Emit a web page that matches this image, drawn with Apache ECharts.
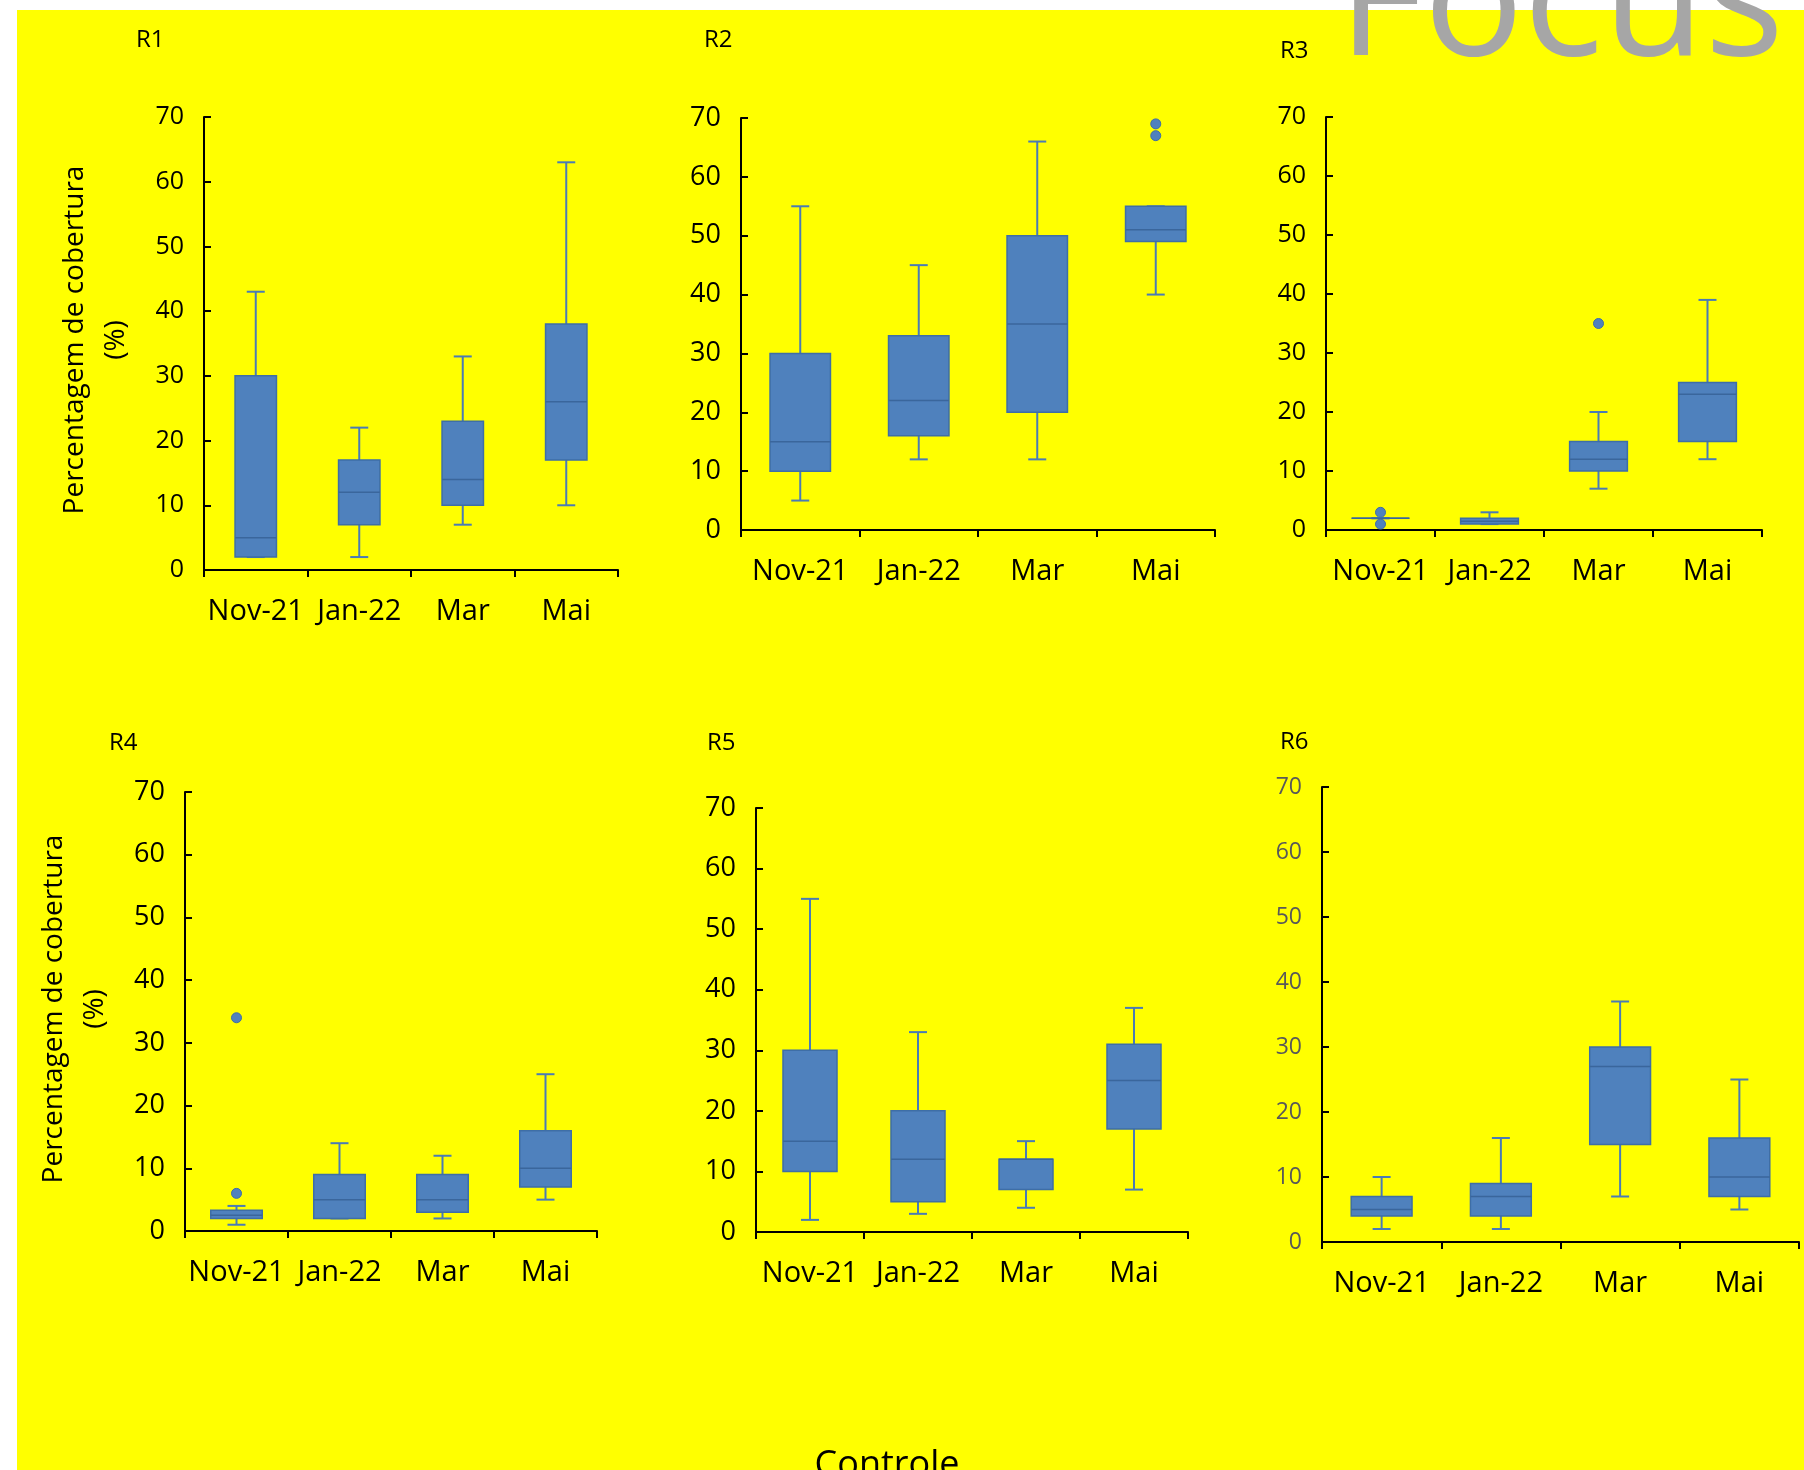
<!DOCTYPE html>
<html>
<head>
<meta charset="utf-8">
<script src="https://cdn.jsdelivr.net/npm/echarts@6/dist/echarts.min.js"></script>
<style>
html,body{margin:0;padding:0;background:#fff;}
#chart{width:1804px;height:1470px;}
</style>
</head>
<body>
<div id="chart"></div>
<script>
// ---- data ----
const categories = ['Nov-21', 'Jan-22', 'Mar', 'Mai'];
const yMin = 0, yMax = 70, yStep = 10;
// each box: [min, Q1, median, Q3, max]
const r1Box = [[2, 2, 5, 30, 43], [2, 7, 12, 17, 22], [7, 10, 14, 23, 33], [10, 17, 26, 38, 63]];
const r1Out = [];
const r2Box = [[5, 10, 15, 30, 55], [12, 16, 22, 33, 45], [12, 20, 35, 50, 66], [40, 49, 51, 55, 55]];
const r2Out = [['Mai', 69], ['Mai', 67]];
const r3Box = [[2, 2, 2, 2, 2], [1, 1, 1.5, 2, 3], [7, 10, 12, 15, 20], [12, 15, 23, 25, 39]];
const r3Out = [['Nov-21', 3], ['Nov-21', 1], ['Mar', 35]];
const r4Box = [[1, 2, 2.5, 3.3, 4], [2, 2, 5, 9, 14], [2, 3, 5, 9, 12], [5, 7, 10, 16, 25]];
const r4Out = [['Nov-21', 6], ['Nov-21', 34]];
const r5Box = [[2, 10, 15, 30, 55], [3, 5, 12, 20, 33], [4, 7, 12, 12, 15], [7, 17, 25, 31, 37]];
const r5Out = [];
const r6Box = [[2, 4, 5, 7, 10], [2, 4, 7, 9, 16], [7, 15, 27, 30, 37], [5, 7, 10, 16, 25]];
const r6Out = [];
const panelNames = ['R1', 'R2', 'R3', 'R4', 'R5', 'R6'];
const yTitle = 'Percentagem de cobertura\n(%)';
const bottomTitle = 'Controle';
const watermark = 'Focus';

// ---- layout ----
const FONT = '"Open Sans", sans-serif';
const panels = [
  {box: r1Box, out: r1Out, grid: {left: 204, top: 117, width: 414, height: 453}, ratio: 0.40, yFont: 25, yColor: '#000', label: [136, 40]},
  {box: r2Box, out: r2Out, grid: {left: 741, top: 118, width: 474, height: 412}, ratio: 0.51, yFont: 27, yColor: '#000', label: [704, 40]},
  {box: r3Box, out: r3Out, grid: {left: 1326, top: 117, width: 436, height: 413}, ratio: 0.53, yFont: 25, yColor: '#000', label: [1280, 51]},
  {box: r4Box, out: r4Out, grid: {left: 185, top: 792, width: 412, height: 439}, ratio: 0.50, yFont: 27, yColor: '#000', label: [109, 743]},
  {box: r5Box, out: r5Out, grid: {left: 756, top: 808, width: 432, height: 424}, ratio: 0.50, yFont: 27, yColor: '#000', label: [707, 743]},
  {box: r6Box, out: r6Out, grid: {left: 1322, top: 787, width: 477, height: 455}, ratio: 0.51, yFont: 23, yColor: '#595959', label: [1280, 742]}
];

const BOX_FILL = '#4f81bd';
const BOX_EDGE = '#3e6ea6';
const WHISKER = '#4a7bb5';

function makeRender(ratio) {
  return function (params, api) {
    const i = api.value(0);
    const pMin = api.coord([i, api.value(1)]);
    const pQ1 = api.coord([i, api.value(2)]);
    const pMed = api.coord([i, api.value(3)]);
    const pQ3 = api.coord([i, api.value(4)]);
    const pMax = api.coord([i, api.value(5)]);
    const band = api.size([1, 0])[0];
    const w = band * ratio;
    const cx = pMed[0];
    const cap = 9;
    const ls = {stroke: WHISKER, lineWidth: 2};
    return {
      type: 'group',
      children: [
        {type: 'line', shape: {x1: cx, y1: pQ3[1], x2: cx, y2: pMax[1]}, style: ls},
        {type: 'line', shape: {x1: cx - cap, y1: pMax[1], x2: cx + cap, y2: pMax[1]}, style: ls},
        {type: 'line', shape: {x1: cx, y1: pQ1[1], x2: cx, y2: pMin[1]}, style: ls},
        {type: 'line', shape: {x1: cx - cap, y1: pMin[1], x2: cx + cap, y2: pMin[1]}, style: ls},
        {type: 'rect', shape: {x: cx - w / 2, y: pQ3[1], width: w, height: Math.max(pQ1[1] - pQ3[1], 0)},
          style: {fill: BOX_FILL, stroke: BOX_EDGE, lineWidth: 1.5}},
        {type: 'line', shape: {x1: cx - w / 2, y1: pMed[1], x2: cx + w / 2, y2: pMed[1]},
          style: {stroke: '#3a669c', lineWidth: 1.5}}
      ]
    };
  };
}

const grid = [], xAxis = [], yAxis = [], series = [];
const graphic = [
  {type: 'rect', z: -100, silent: true, shape: {x: 17, y: 10, width: 1804 - 17, height: 1470 - 10}, style: {fill: '#ffff00'}}
];

panels.forEach((p, k) => {
  grid.push(Object.assign({containLabel: false}, p.grid));
  xAxis.push({
    type: 'category', gridIndex: k, data: categories, boundaryGap: true,
    axisLine: {show: true, lineStyle: {color: '#000', width: 2}},
    axisTick: {show: true, inside: false, length: 7, lineStyle: {color: '#000', width: 2}},
    axisLabel: {color: '#000', fontSize: 29, fontFamily: FONT, margin: 27, interval: 0},
    splitLine: {show: false}
  });
  yAxis.push({
    type: 'value', gridIndex: k, min: yMin, max: yMax, interval: yStep,
    axisLine: {show: true, lineStyle: {color: '#000', width: 2}},
    axisTick: {show: true, inside: true, length: 7, lineStyle: {color: '#000', width: 2}},
    axisLabel: {color: p.yColor, fontSize: p.yFont, fontFamily: FONT, margin: 20},
    splitLine: {show: false}
  });
  series.push({
    type: 'custom', xAxisIndex: k, yAxisIndex: k,
    renderItem: makeRender(p.ratio),
    encode: {x: 0, y: [1, 2, 3, 4, 5]},
    data: p.box.map((b, i) => [i].concat(b)),
    z: 3
  });
  if (p.out.length) {
    series.push({
      type: 'scatter', xAxisIndex: k, yAxisIndex: k,
      data: p.out, symbol: 'circle', symbolSize: 10,
      itemStyle: {color: BOX_FILL, borderColor: BOX_EDGE, borderWidth: 1, opacity: 1},
      z: 4
    });
  }
  graphic.push({
    type: 'text', x: p.label[0], y: p.label[1], silent: true,
    style: {text: panelNames[k], fill: '#000', font: '24px ' + FONT, textAlign: 'left', textVerticalAlign: 'middle'}
  });
});

// y axis titles (R1 and R4)
graphic.push({
  type: 'text', x: 96, y: 340, rotation: Math.PI / 2, silent: true,
  style: {text: yTitle, fill: '#000', font: '28px ' + FONT, lineHeight: 41, textAlign: 'center', textVerticalAlign: 'middle'}
});
graphic.push({
  type: 'text', x: 75, y: 1009, rotation: Math.PI / 2, silent: true,
  style: {text: yTitle, fill: '#000', font: '28px ' + FONT, lineHeight: 41, textAlign: 'center', textVerticalAlign: 'middle'}
});
// bottom title
graphic.push({
  type: 'text', x: 887, y: 1466, silent: true,
  style: {text: bottomTitle, fill: '#000', font: '36px ' + FONT, textAlign: 'center', textVerticalAlign: 'middle'}
});
// watermark
graphic.push({
  type: 'text', x: 1338, y: 8, silent: true, z: 50,
  style: {text: watermark, fill: '#a6a6a6', font: '166px ' + FONT, textAlign: 'left', textVerticalAlign: 'middle'}
});

const chart = echarts.init(document.getElementById('chart'), null, {renderer: 'canvas'});
chart.setOption({
  backgroundColor: '#ffffff',
  animation: false,
  grid, xAxis, yAxis, series, graphic
});
</script>
</body>
</html>
